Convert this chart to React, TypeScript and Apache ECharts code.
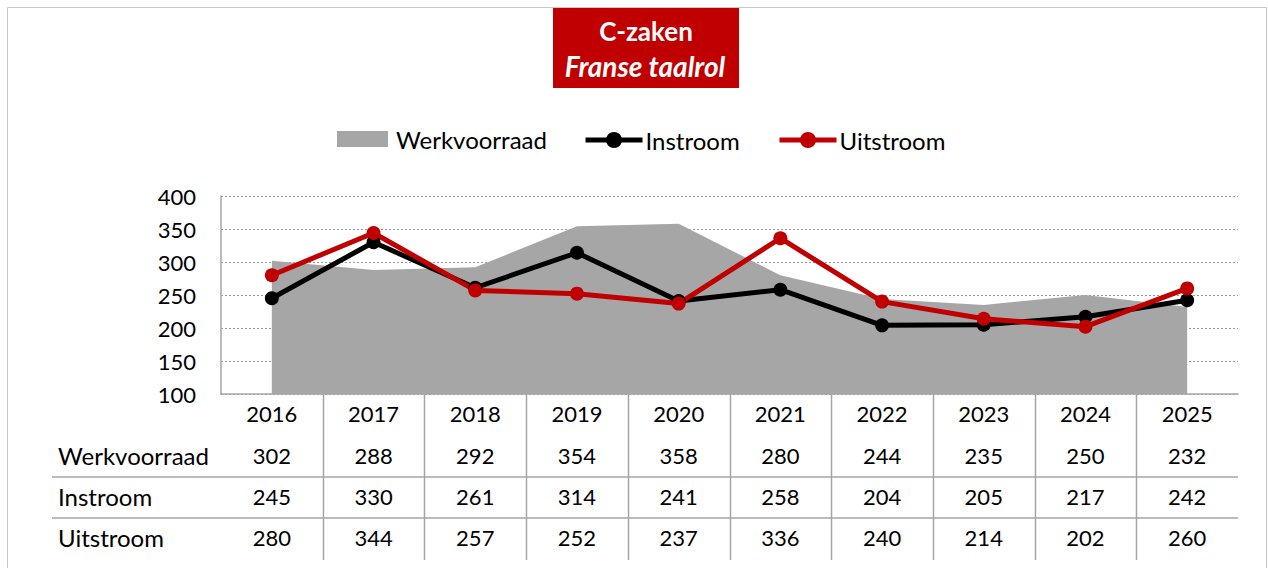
import React, { useEffect, useRef } from "react";
import * as echarts from "echarts";

const years = ["2016", "2017", "2018", "2019", "2020", "2021", "2022", "2023", "2024", "2025"];
const werkvoorraad = [302, 288, 292, 354, 358, 280, 244, 235, 250, 232];
const instroom = [245, 330, 261, 314, 241, 258, 204, 205, 217, 242];
const uitstroom = [280, 344, 257, 252, 237, 336, 240, 214, 202, 260];
const rowLabels = ["Werkvoorraad", "Instroom", "Uitstroom"];
const titleLines = ["C-zaken", "Franse taalrol"];
const yTicks = { min: 100, max: 400, interval: 50 };

const FONT = "Lato, 'Open Sans', sans-serif";
const RED = "#C00000";
const GREY = "#A6A6A6";
const LINE_GREY = "#A6A6A6";

export default function App() {
  const ref = useRef<HTMLDivElement>(null);
  useEffect(() => {
    if (!ref.current) return;
    const chart = echarts.init(ref.current, undefined, { renderer: "svg" });
    const rows = [werkvoorraad, instroom, uitstroom];
    const legendText = { fontSize: 24, color: "#000", fontFamily: FONT, padding: [0, 0, 0, 3] };
    const legendText2 = { fontSize: 24, color: "#000", fontFamily: FONT, padding: [0, 0, 0, -2] };
    chart.setOption({
      animation: false,
      textStyle: { fontFamily: FONT },
      grid: { left: 221, right: 30, top: 196, bottom: 174 },
      legend: [
        {
          left: 337,
          top: 127,
          padding: 0,
          itemWidth: 51,
          itemHeight: 16,
          textStyle: legendText,
          data: [{ name: "Werkvoorraad", icon: "rect", itemStyle: { color: GREY } }],
        },
        {
          left: 583,
          top: 128,
          padding: 0,
          itemWidth: 57,
          itemHeight: 20,
          textStyle: legendText2,
          lineStyle: { width: 5 },
          data: [{ name: "Instroom" }],
        },
        {
          left: 777,
          top: 128,
          padding: 0,
          itemWidth: 57,
          itemHeight: 20,
          textStyle: legendText2,
          lineStyle: { width: 5 },
          data: [{ name: "Uitstroom" }],
        },
      ],
      xAxis: {
        type: "category",
        data: years,
        boundaryGap: true,
        axisLine: { show: true, lineStyle: { color: LINE_GREY, width: 1.5 } },
        axisTick: { show: false },
        axisLabel: {
          margin: -3,
          interval: 0,
          formatter: (v: string, i: number) =>
            `{y|${v}}\n` + rows.map((r) => `{v|${r[i]}}`).join("\n"),
          rich: {
            y: { fontSize: 22, lineHeight: 44, color: "#000", fontFamily: FONT },
            v: { fontSize: 22, lineHeight: 41, color: "#000", fontFamily: FONT },
          },
        },
      },
      yAxis: {
        type: "value",
        min: yTicks.min,
        max: yTicks.max,
        interval: yTicks.interval,
        axisLine: { show: true, lineStyle: { color: LINE_GREY, width: 1.5 } },
        axisTick: { show: false },
        axisLabel: { fontSize: 22, color: "#000", margin: 25, fontFamily: FONT },
        splitLine: { show: true, lineStyle: { color: "#999", type: [2, 2], width: 1 } },
      },
      series: [
        {
          name: "Werkvoorraad",
          type: "line",
          data: werkvoorraad,
          symbol: "none",
          lineStyle: { width: 0, color: GREY },
          itemStyle: { color: GREY },
          areaStyle: { color: GREY, opacity: 1, origin: "start" },
        },
        {
          name: "Instroom",
          type: "line",
          data: instroom,
          symbol: "circle",
          symbolSize: 14,
          lineStyle: { width: 5, color: "#000" },
          itemStyle: { color: "#000" },
        },
        {
          name: "Uitstroom",
          type: "line",
          data: uitstroom,
          symbol: "circle",
          symbolSize: 14,
          lineStyle: { width: 5, color: RED },
          itemStyle: { color: RED },
        },
      ],
    });

    const px = (i: number) => chart.convertToPixel({ xAxisIndex: 0 }, i) as number;
    const y0 = chart.convertToPixel({ yAxisIndex: 0 }, yTicks.min) as number;
    const half = (px(1) - px(0)) / 2;
    const rightEdge = px(years.length - 1) + half;
    const graphics: any[] = [
      {
        type: "rect",
        shape: { x: 7.5, y: 7.5, width: 1259, height: 700 },
        style: { fill: "none", stroke: "#C8C8C8", lineWidth: 1 },
        silent: true,
      },
      {
        type: "rect",
        shape: { x: 553, y: 8, width: 186, height: 80 },
        style: { fill: RED },
      },
      {
        type: "text",
        x: 646,
        y: 31,
        style: {
          text: titleLines[0],
          fill: "#fff",
          font: `bold 26px ${FONT}`,
          align: "center",
          verticalAlign: "middle",
        },
      },
      {
        type: "text",
        x: 645,
        y: 66,
        style: {
          text: titleLines[1],
          fill: "#fff",
          font: `italic bold 28px ${FONT}`,
          align: "center",
          verticalAlign: "middle",
        },
      },
    ];
    for (let i = 1; i < years.length; i++) {
      const x = Math.round(px(i) - half) + 0.5;
      graphics.push({
        type: "line",
        shape: { x1: x, y1: y0, x2: x, y2: 560 },
        style: { stroke: LINE_GREY, lineWidth: 1.5 },
      });
    }
    [477, 518].forEach((y) =>
      graphics.push({
        type: "line",
        shape: { x1: 52, y1: y, x2: rightEdge, y2: y },
        style: { stroke: LINE_GREY, lineWidth: 1.5 },
      })
    );
    const rowY = [455, 496, 537];
    rowLabels.forEach((t, k) =>
      graphics.push({
        type: "text",
        x: 58,
        y: rowY[k],
        style: { text: t, fill: "#000", font: `24px ${FONT}`, align: "left", verticalAlign: "middle" },
      })
    );
    chart.setOption({ graphic: graphics });

    return () => chart.dispose();
  }, []);
  return (
    <div
      ref={ref}
      style={{ position: "fixed", left: 0, top: 0, width: 1268, height: 568, background: "#fff" }}
    />
  );
}
